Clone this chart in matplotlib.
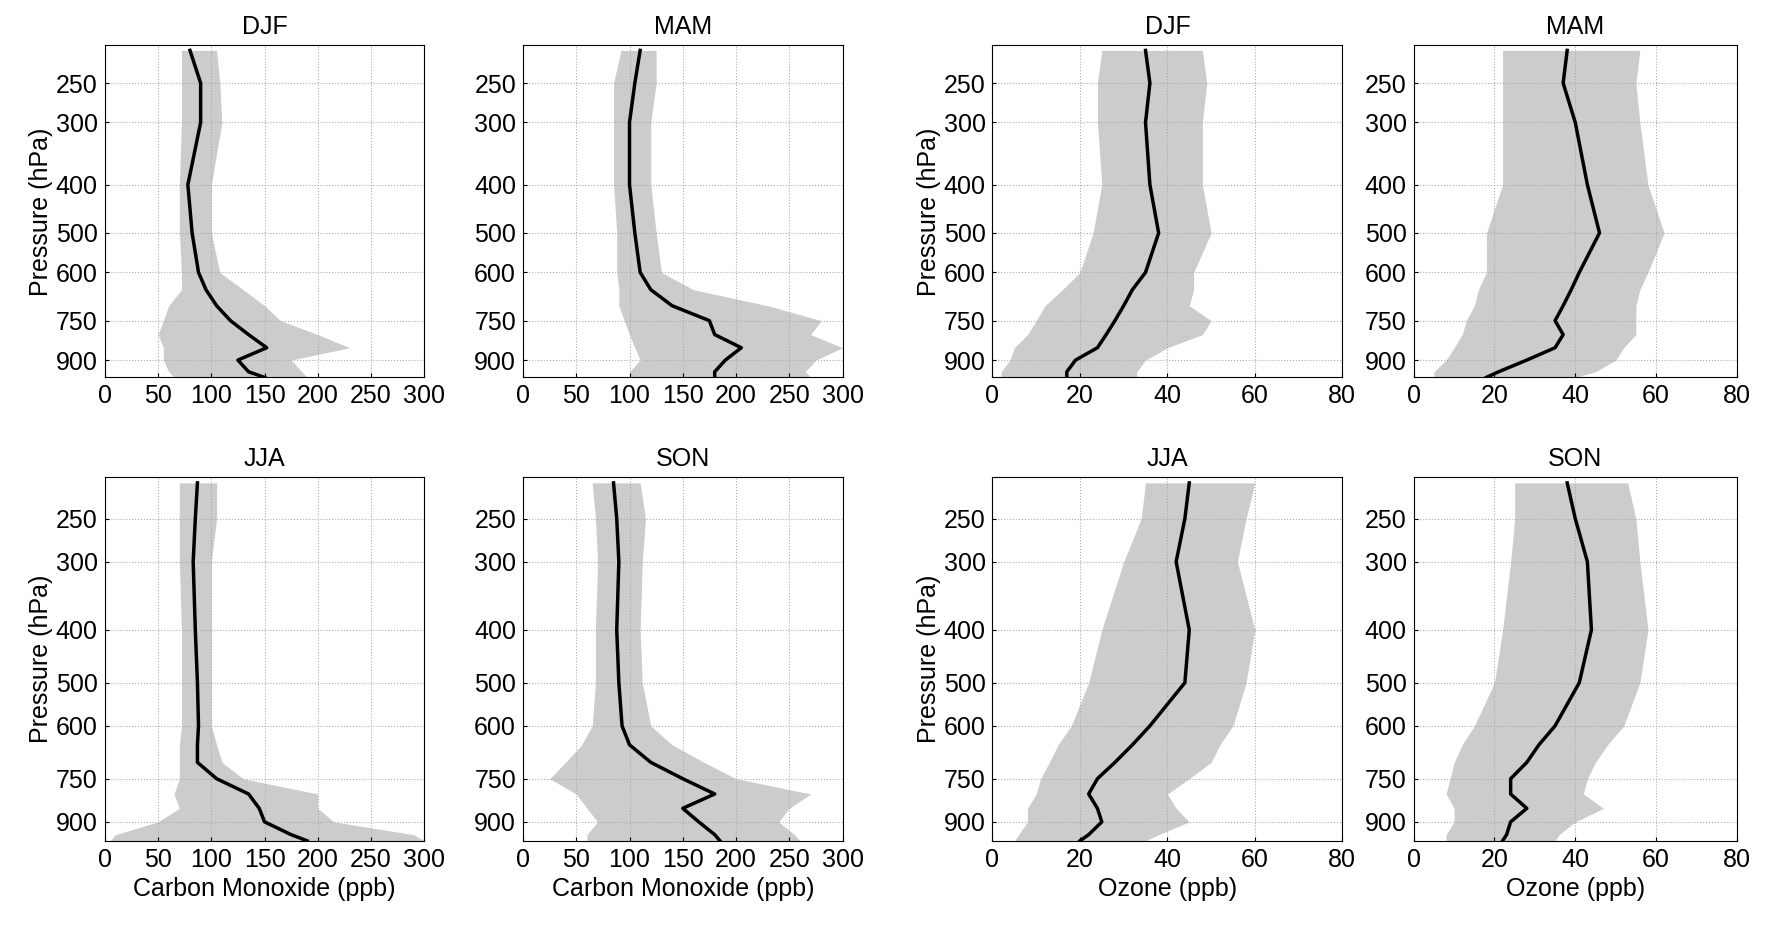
import numpy as np
import matplotlib.pyplot as plt

plt.rcParams['font.family'] = ['Liberation Sans', 'DejaVu Sans']

# pressure levels (hPa)
p = [215, 250, 300, 400, 500, 600, 650, 700, 750, 800, 850, 900, 950, 975]

co_djf = [80, 90, 90, 78, 82, 88, 95, 105, 118, 135, 152, 125, 135, 150]
co_djf_lo = [72, 72, 72, 70, 70, 72, 72, 60, 55, 50, 55, 55, 60, 65]
co_djf_hi = [105, 108, 110, 100, 100, 108, 130, 150, 165, 200, 230, 175, 185, 190]

co_mam = [110, 105, 100, 100, 105, 110, 120, 140, 175, 180, 205, 190, 180, 180]
co_mam_lo = [92, 85, 85, 85, 88, 88, 90, 90, 95, 100, 105, 110, 100, 100]
co_mam_hi = [125, 125, 120, 120, 125, 130, 160, 230, 280, 270, 300, 275, 265, 270]

o3_djf = [35, 36, 35, 36, 38, 35, 32, 30, 28, 26, 24, 19, 17, 17]
o3_djf_lo = [25, 24, 24, 25, 23, 20, 16, 12, 10, 8, 5, 4, 2, 2]
o3_djf_hi = [48, 49, 48, 48, 50, 46, 46, 45, 50, 48, 40, 35, 33, 33]

o3_mam = [38, 37, 40, 43, 46, 41, 39, 37, 35, 37, 35, 28, 21, 18]
o3_mam_lo = [22, 22, 22, 22, 18, 18, 16, 15, 13, 12, 10, 8, 5, 5]
o3_mam_hi = [56, 55, 56, 58, 62, 58, 56, 55, 55, 55, 52, 50, 45, 40]

co_jja = [87, 85, 83, 85, 87, 88, 87, 87, 105, 135, 145, 150, 175, 190]
co_jja_lo = [70, 70, 70, 72, 72, 72, 70, 70, 70, 65, 70, 50, 10, 5]
co_jja_hi = [105, 105, 100, 100, 100, 100, 105, 110, 130, 200, 200, 215, 290, 300]

co_son = [85, 88, 90, 88, 90, 93, 100, 120, 150, 180, 150, 165, 180, 185]
co_son_lo = [65, 68, 70, 68, 68, 65, 55, 40, 25, 50, 60, 70, 60, 60]
co_son_hi = [110, 115, 112, 110, 112, 120, 140, 170, 200, 270, 250, 240, 255, 260]

o3_jja = [45, 44, 42, 45, 44, 36, 32, 28, 24, 22, 24, 25, 22, 20]
o3_jja_lo = [35, 34, 30, 25, 22, 18, 15, 13, 11, 10, 8, 8, 6, 5]
o3_jja_hi = [60, 58, 56, 60, 58, 55, 52, 50, 45, 40, 42, 45, 38, 35]

o3_son = [38, 40, 43, 44, 41, 35, 31, 28, 24, 24, 28, 24, 23, 22]
o3_son_lo = [25, 25, 24, 22, 20, 15, 12, 10, 9, 8, 10, 10, 8, 8]
o3_son_hi = [53, 55, 56, 58, 56, 52, 48, 45, 43, 42, 47, 40, 36, 35]

panels = [
    ("DJF", co_djf, co_djf_lo, co_djf_hi, "co", 0, 0),
    ("MAM", co_mam, co_mam_lo, co_mam_hi, "co", 0, 1),
    ("DJF", o3_djf, o3_djf_lo, o3_djf_hi, "o3", 0, 2),
    ("MAM", o3_mam, o3_mam_lo, o3_mam_hi, "o3", 0, 3),
    ("JJA", co_jja, co_jja_lo, co_jja_hi, "co", 1, 0),
    ("SON", co_son, co_son_lo, co_son_hi, "co", 1, 1),
    ("JJA", o3_jja, o3_jja_lo, o3_jja_hi, "o3", 1, 2),
    ("SON", o3_son, o3_son_lo, o3_son_hi, "o3", 1, 3),
]

lefts = [0.0587, 0.293, 0.556, 0.792]
widths = [0.179, 0.179, 0.196, 0.181]
rows = [(0.592, 0.359), (0.091, 0.393)]
yticks = [250, 300, 400, 500, 600, 750, 900]
fs = 18

fig = plt.figure(figsize=(17.85, 9.25), dpi=100)
for title, mean, lo, hi, kind, r, c in panels:
    ax = fig.add_axes([lefts[c], rows[r][0], widths[c], rows[r][1]])
    ax.fill_betweenx(p, lo, hi, color="#cccccc", lw=0)
    ax.plot(mean, p, color="black", lw=2.5)
    ax.set_yscale("log")
    ax.set_ylim(975, 210)
    ax.set_yticks(yticks)
    ax.set_yticklabels([str(t) for t in yticks])
    ax.minorticks_off()
    if kind == "co":
        ax.set_xlim(0, 300)
        ax.set_xticks(range(0, 301, 50))
        if r == 1:
            ax.set_xlabel("Carbon Monoxide (ppb)", fontsize=fs)
    else:
        ax.set_xlim(0, 80)
        ax.set_xticks(range(0, 81, 20))
        if r == 1:
            ax.set_xlabel("Ozone (ppb)", fontsize=fs)
    if c in (0, 2):
        ax.set_ylabel("Pressure (hPa)", fontsize=fs, labelpad=2)
    ax.set_title(title, fontsize=fs, pad=8)
    ax.grid(True, ls=":", color="#aaaaaa", lw=0.8)
    ax.tick_params(labelsize=fs, direction="in", length=3, pad=5)
    for s in ax.spines.values():
        s.set_linewidth(0.8)

fig.savefig("out.png", dpi=100)
